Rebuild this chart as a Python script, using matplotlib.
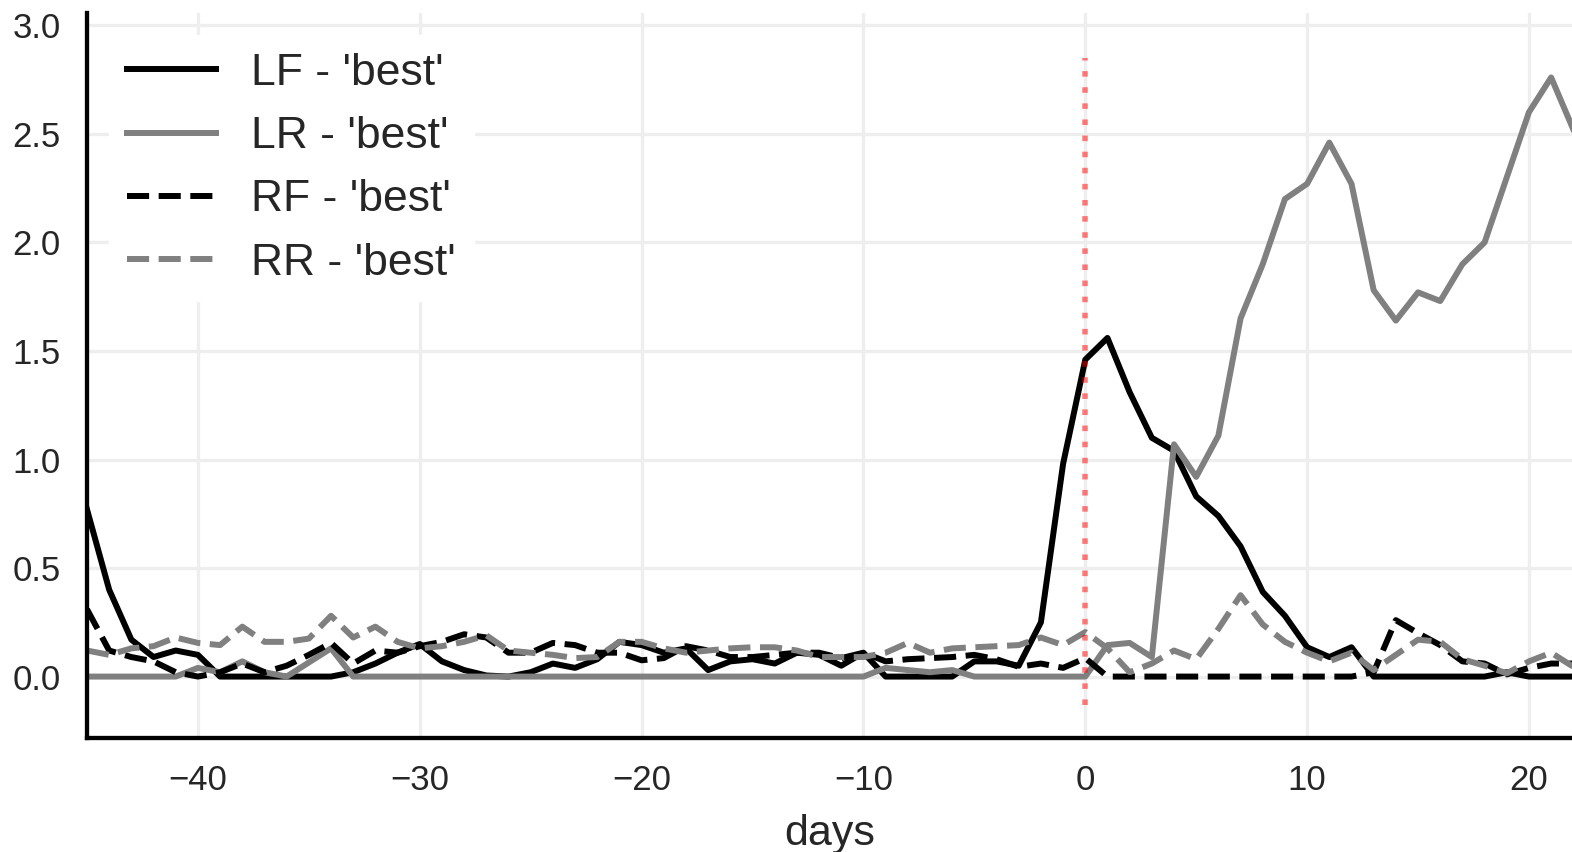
import matplotlib
matplotlib.use("Agg")
import matplotlib.pyplot as plt
import numpy as np

plt.rcParams['font.family'] = ['Liberation Sans', 'DejaVu Sans']

days = list(range(-45, 23))

lf_best = [0.77, 0.40, 0.17, 0.09, 0.12, 0.10, 0.0, 0.0, 0.0, 0.0,
           0.0, 0.0, 0.02, 0.06, 0.11, 0.15, 0.07, 0.03, 0.005, 0.0,
           0.02, 0.06, 0.04, 0.08, 0.16, 0.145, 0.11, 0.13, 0.03, 0.07,
           0.08, 0.06, 0.11, 0.10, 0.05, 0.11, 0.0, 0.0, 0.0, 0.0,
           0.07, 0.07, 0.05, 0.25, 0.98, 1.46, 1.56, 1.31, 1.10, 1.04,
           0.83, 0.74, 0.60, 0.39, 0.28, 0.135, 0.09, 0.135, 0.0, 0.0,
           0.0, 0.0, 0.0, 0.0, 0.02, 0.0, 0.0, 0.0]

lr_best = [0.0, 0.0, 0.0, 0.0, 0.0, 0.04, 0.02, 0.07, 0.02, 0.0,
           0.065, 0.13, 0.0, 0.0, 0.0, 0.0, 0.0, 0.0, 0.0, 0.0,
           0.0, 0.0, 0.0, 0.0, 0.0, 0.0, 0.0, 0.0, 0.0, 0.0,
           0.0, 0.0, 0.0, 0.0, 0.0, 0.0, 0.04, 0.03, 0.02, 0.03,
           0.0, 0.0, 0.0, 0.0, 0.0, 0.0, 0.145, 0.155, 0.09, 1.07,
           0.92, 1.11, 1.65, 1.90, 2.20, 2.27, 2.46, 2.27, 1.78, 1.64,
           1.77, 1.73, 1.90, 2.00, 2.30, 2.60, 2.76, 2.52]

rf_best = [0.31, 0.12, 0.09, 0.07, 0.02, 0.0, 0.02, 0.06, 0.02, 0.05,
           0.10, 0.155, 0.06, 0.12, 0.11, 0.14, 0.16, 0.195, 0.18, 0.11,
           0.11, 0.155, 0.145, 0.11, 0.11, 0.075, 0.085, 0.14, 0.12, 0.09,
           0.09, 0.10, 0.11, 0.11, 0.085, 0.11, 0.07, 0.08, 0.085, 0.09,
           0.10, 0.08, 0.045, 0.06, 0.04, 0.085, 0.0, 0.0, 0.0, 0.0,
           0.0, 0.0, 0.0, 0.0, 0.0, 0.0, 0.0, 0.0, 0.02, 0.26,
           0.20, 0.145, 0.07, 0.06, 0.01, 0.04, 0.06, 0.06]

rr_best = [0.12, 0.10, 0.13, 0.14, 0.18, 0.155, 0.145, 0.23, 0.16, 0.16,
           0.175, 0.28, 0.18, 0.23, 0.16, 0.13, 0.14, 0.16, 0.19, 0.12,
           0.11, 0.10, 0.085, 0.09, 0.16, 0.16, 0.13, 0.11, 0.12, 0.13,
           0.135, 0.135, 0.12, 0.09, 0.09, 0.09, 0.11, 0.155, 0.11, 0.13,
           0.135, 0.14, 0.145, 0.18, 0.145, 0.205, 0.13, 0.02, 0.06, 0.12,
           0.08, 0.22, 0.375, 0.24, 0.16, 0.11, 0.07, 0.11, 0.03, 0.10,
           0.17, 0.16, 0.08, 0.05, 0.015, 0.07, 0.11, 0.045]

labels = ["LF - 'best'", "LR - 'best'", "RF - 'best'", "RR - 'best'"]
event_day = 0

text_color = '#262626'
fig = plt.figure(figsize=(15.72, 8.52), dpi=100)
ax = fig.add_axes([87 / 1572, 114 / 852, 1 - 87 / 1572, (738 - 13) / 852])

lw = 4.3
ax.plot(days, lf_best, color='black', lw=lw, linestyle='-', label=labels[0])
ax.plot(days, lr_best, color='#808080', lw=lw, linestyle='-', label=labels[1])
ax.plot(days, rf_best, color='black', lw=lw, linestyle='--', label=labels[2])
ax.plot(days, rr_best, color='#808080', lw=lw, linestyle='--', label=labels[3])
ax.vlines(event_day, -0.13, 2.85, color='red', alpha=0.5, lw=4.0,
          linestyles=[(0, (1, 1.9))])

ax.set_xlim(-45, 21.94)
ax.set_ylim(-0.283, 3.057)
ax.set_xticks([-40, -30, -20, -10, 0, 10, 20])
ax.set_yticks([0.0, 0.5, 1.0, 1.5, 2.0, 2.5, 3.0])
ax.set_yticklabels(['0.0', '0.5', '1.0', '1.5', '2.0', '2.5', '3.0'])
ax.grid(True, color='#eeeeee', lw=2.4)
ax.set_axisbelow(True)
for s in ['top', 'right']:
    ax.spines[s].set_visible(False)
for s in ['left', 'bottom']:
    ax.spines[s].set_color('black')
    ax.spines[s].set_linewidth(3.1)
ax.tick_params(axis='both', length=0, labelsize=25, labelcolor=text_color)
ax.tick_params(axis='y', pad=19)
ax.tick_params(axis='x', pad=19)
ax.set_xlabel('days', fontsize=31, color=text_color, labelpad=12)

leg = ax.legend(loc='upper left', fontsize=32, frameon=True, framealpha=1,
                facecolor='white', edgecolor='white', labelspacing=0.5,
                handlelength=2.0)
for t in leg.get_texts():
    t.set_color(text_color)

fig.savefig('out.png', dpi=100)
